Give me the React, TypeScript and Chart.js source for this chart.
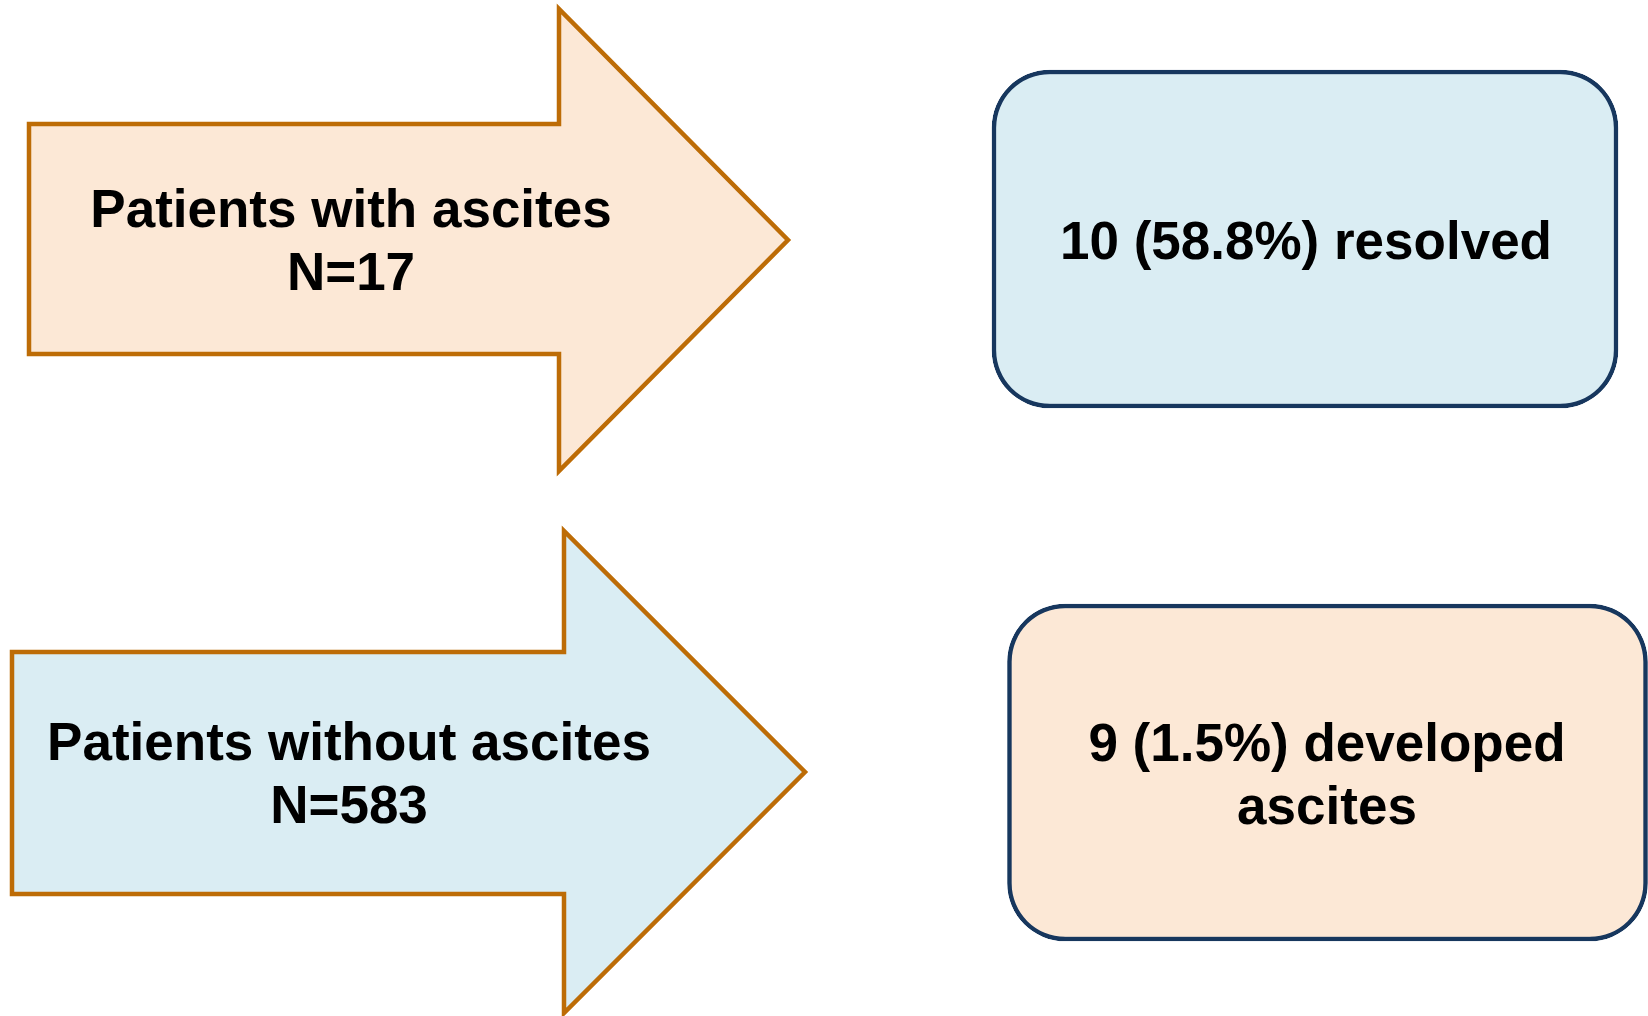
import React, { useEffect, useRef } from "react";
import { Chart, registerables } from "chart.js";

Chart.register(...registerables);

// ---- content ----
const arrowLabels: string[][] = [
  ["Patients with ascites", "N=17"],
  ["Patients without ascites", "N=583"],
];
const outcomeLabels: string[][] = [
  ["10 (58.8%) resolved"],
  ["9 (1.5%) developed", "ascites"],
];

// ---- geometry (diagram coordinates, 1 unit = 1 px) ----
const arrow1X = [29, 29, 559, 559, 788, 559, 559, 29, 29];
const arrow1Y = [240, 124, 124, 9, 240, 471, 354, 354, 240];
const arrow2X = [12, 12, 564, 564, 805, 564, 564, 12, 12];
const arrow2Y = [772, 652, 652, 531, 772, 1013, 894, 894, 772];

const boxCenterX = [1305, 1327.5];
const boxWidth = [626, 640];
const boxTop = [70, 604];
const boxBottom = [408, 941];

const arrowTextX = [351, 349];
const arrowTextY = [227, 760];
const boxTextX = [1306, 1327];
const boxTextY = [259, 761];

const W = 1648;
const H = 1016;
const LINE_GAP = 63;
const FONT = 'bold 53px "Liberation Sans", Arial, sans-serif';

const PEACH = "#FCE8D6";
const BLUE = "#DAEDF3";
const ORANGE = "#BD6C06";
const NAVY = "#17375E";

function pts(xs: number[], ys: number[]) {
  return xs.map((x, i) => ({ x, y: ys[i] }));
}

const shapeFillPlugin = {
  id: "shapeFill",
  beforeDatasetDraw(chart: any, args: any) {
    const ds: any = chart.data.datasets[args.index];
    if (!ds.shapeFill) return;
    const meta = chart.getDatasetMeta(args.index);
    const ctx = chart.ctx;
    ctx.save();
    ctx.beginPath();
    meta.data.forEach((p: any, i: number) => {
      if (i === 0) ctx.moveTo(p.x, p.y);
      else ctx.lineTo(p.x, p.y);
    });
    ctx.closePath();
    ctx.fillStyle = ds.shapeFill;
    ctx.fill();
    ctx.restore();
  },
};

const labelPlugin = {
  id: "labels",
  afterDatasetsDraw(chart: any) {
    const ctx = chart.ctx;
    const xs = chart.scales.x;
    const ys = chart.scales.y;
    const draw = (lines: string[], cx: number, by: number) => {
      lines.forEach((t, i) => {
        ctx.fillText(t, xs.getPixelForValue(cx), ys.getPixelForValue(by + i * LINE_GAP));
      });
    };
    ctx.save();
    ctx.font = FONT;
    ctx.fillStyle = "#000000";
    ctx.textAlign = "center";
    ctx.textBaseline = "alphabetic";
    arrowLabels.forEach((l, i) => draw(l, arrowTextX[i], arrowTextY[i]));
    outcomeLabels.forEach((l, i) => draw(l, boxTextX[i], boxTextY[i]));
    ctx.restore();
  },
};

export default function App() {
  const ref = useRef<HTMLCanvasElement | null>(null);
  useEffect(() => {
    if (!ref.current) return;
    const boxFills = [BLUE, PEACH];
    const arrowFills = [PEACH, BLUE];
    const arrows = [pts(arrow1X, arrow1Y), pts(arrow2X, arrow2Y)];
    const datasets: any[] = [];
    boxCenterX.forEach((cx, i) => {
      datasets.push({
        type: "bar",
        label: outcomeLabels[i].join(" "),
        data: [{ x: cx, y: [boxTop[i], boxBottom[i]] }],
        barThickness: boxWidth[i],
        grouped: false,
        backgroundColor: boxFills[i],
        borderColor: NAVY,
        borderWidth: 4.5,
        borderRadius: 58,
        borderSkipped: false,
      });
    });
    arrows.forEach((data, i) => {
      datasets.push({
        type: "line",
        label: arrowLabels[i].join(" "),
        data,
        shapeFill: arrowFills[i],
        borderColor: ORANGE,
        borderWidth: 4.5,
        borderJoinStyle: "miter",
        borderCapStyle: "butt",
        pointRadius: 0,
        fill: false,
        tension: 0,
        clip: false,
      });
    });
    const chart = new Chart(ref.current, {
      type: "bar",
      data: { datasets },
      options: {
        animation: false,
        responsive: false,
        maintainAspectRatio: false,
        devicePixelRatio: 1,
        layout: { padding: 0 },
        events: [],
        scales: {
          x: { type: "linear", min: 0, max: W, offset: false, display: false, grid: { offset: false } },
          y: { type: "linear", min: 0, max: H, reverse: true, offset: false, display: false },
        },
        plugins: {
          legend: { display: false },
          tooltip: { enabled: false },
        },
      },
      plugins: [shapeFillPlugin, labelPlugin],
    } as any);
    return () => chart.destroy();
  }, []);
  return (
    <div style={{ position: "fixed", left: 0, top: 0, width: W, height: H, background: "#ffffff" }}>
      <canvas ref={ref} width={W} height={H} style={{ display: "block" }} />
    </div>
  );
}
